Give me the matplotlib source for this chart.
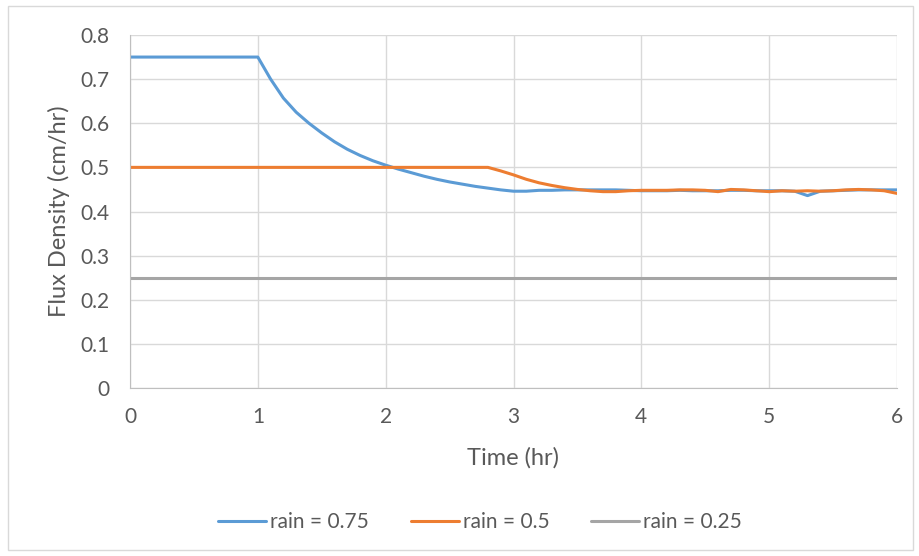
import matplotlib.pyplot as plt
from matplotlib.patches import Rectangle

plt.rcParams['font.family'] = ['Lato', 'DejaVu Sans']

time = [i / 10 for i in range(61)]

rain_075 = [0.75] * 11 + [
    0.70, 0.657, 0.625, 0.600, 0.578, 0.558, 0.541, 0.527, 0.515, 0.505,
    0.496, 0.488, 0.480, 0.473, 0.467, 0.462, 0.457, 0.453, 0.449, 0.446,
    0.446, 0.448, 0.448, 0.449, 0.449, 0.449, 0.449, 0.449, 0.448, 0.447,
    0.447, 0.447, 0.448, 0.447, 0.447, 0.447, 0.448, 0.448, 0.447, 0.447,
    0.447, 0.446, 0.436, 0.446, 0.447, 0.448, 0.449, 0.449, 0.449, 0.449,
]
rain_05 = [0.5] * 29 + [
    0.492, 0.483, 0.473, 0.465, 0.459, 0.454, 0.450, 0.447, 0.445, 0.445,
    0.447, 0.448, 0.448, 0.448, 0.449, 0.449, 0.448, 0.445, 0.450, 0.449,
    0.447, 0.445, 0.447, 0.446, 0.447, 0.446, 0.447, 0.449, 0.450, 0.449,
    0.447, 0.441,
]
rain_025 = [0.25] * 61

fig = plt.figure(figsize=(9.19, 5.56), dpi=100)
ax = fig.add_axes([130 / 919, 1 - 388 / 556, 767 / 919, 353 / 556])
fig.patches.append(Rectangle((8 / 919, 6 / 556), 905 / 919, 544 / 556,
                             transform=fig.transFigure, fill=False,
                             edgecolor='#D9D9D9', linewidth=1))

ax.plot(time, rain_075, color='#5B9BD5', lw=2.2, label='rain = 0.75', solid_capstyle='round')
ax.plot(time, rain_05, color='#ED7D31', lw=2.2, label='rain = 0.5', solid_capstyle='round')
ax.plot(time, rain_025, color='#A5A5A5', lw=2.2, label='rain = 0.25', solid_capstyle='round')

ax.set_xlim(0, 6)
ax.set_ylim(0, 0.8)
ax.set_xticks(range(7))
ax.set_yticks([i / 10 for i in range(9)])
ax.set_yticklabels(['0'] + ['%.1f' % (i / 10) for i in range(1, 9)])
ax.grid(True, color='#D9D9D9', lw=1)
ax.set_axisbelow(True)
for s in ['top', 'right']:
    ax.spines[s].set_visible(False)
for s in ['left', 'bottom']:
    ax.spines[s].set_color('#BFBFBF')
ax.tick_params(length=0, labelsize=15, colors='#595959')
ax.tick_params(axis='x', pad=14)
ax.tick_params(axis='y', pad=15)
ax.set_xlabel('Time (hr)', fontsize=17, color='#595959')
ax.set_ylabel('Flux Density (cm/hr)', fontsize=17, color='#595959')
ax.xaxis.set_label_coords(0.4994, -0.167)
ax.yaxis.set_label_coords(-0.078, 0.5)

leg = ax.legend(loc='center', bbox_to_anchor=(480 / 919, 1 - 522 / 556),
                bbox_transform=fig.transFigure, ncol=3, frameon=False,
                fontsize=15, handlelength=2.3, handletextpad=0.2, columnspacing=2.0)
for t in leg.get_texts():
    t.set_color('#595959')

fig.savefig('out.png', dpi=100)
